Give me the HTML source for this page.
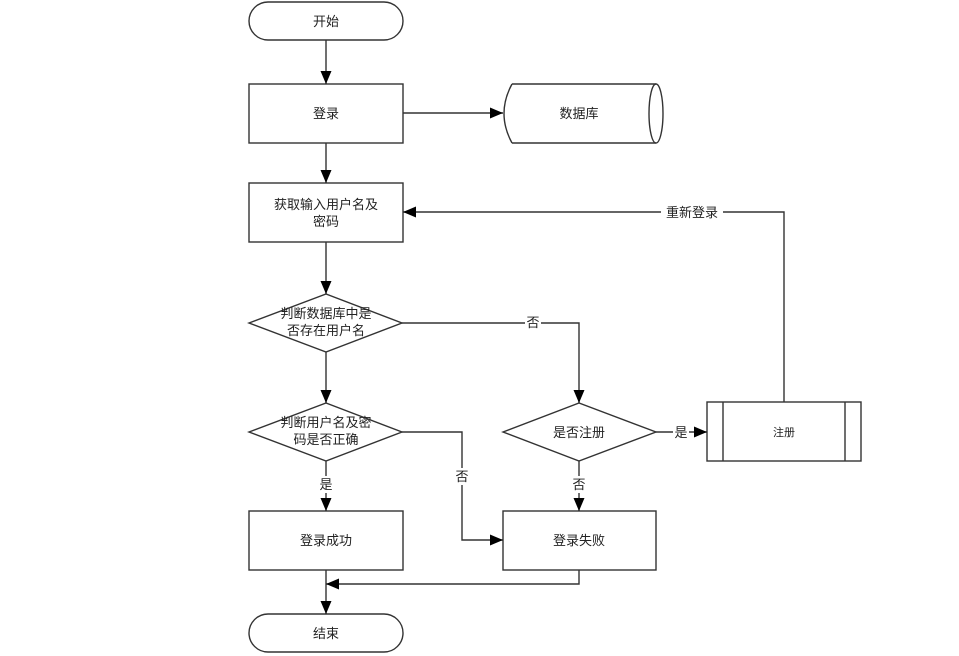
<!DOCTYPE html>
<html><head><meta charset="utf-8"><style>
html,body{margin:0;padding:0;background:#fff;}
svg{display:block;}
text{font-family:"Liberation Sans","Noto Sans CJK SC",sans-serif;font-size:13px;fill:#222;text-anchor:middle;}
</style></head><body>
<svg width="959" height="656" viewBox="0 0 959 656" xmlns="http://www.w3.org/2000/svg">
<defs><marker id="a" markerWidth="13" markerHeight="11" refX="13" refY="5.5" orient="auto" markerUnits="userSpaceOnUse"><path d="M0,0 L13,5.5 L0,11 z" fill="#000"/></marker></defs>
<g fill="none" stroke="#333" stroke-width="1.4">
<rect x="249" y="2" width="154" height="38" rx="19"/>
<rect x="249" y="84" width="154" height="59"/>
<path d="M512,84 H656 M512,143 H656 M512,84 Q496,113.5 512,143"/>
<ellipse cx="656" cy="113.5" rx="7" ry="29.5"/>
<rect x="249" y="183" width="154" height="59"/>
<path d="M249,323 L326,294 L402,323 L326,352 z"/>
<path d="M249,432 L326,403 L402,432 L326,461 z"/>
<path d="M503,432 L579,403 L656,432 L579,461 z"/>
<rect x="707" y="402" width="154" height="59"/>
<path d="M723,402 V461 M845,402 V461"/>
<rect x="249" y="511" width="154" height="59"/>
<rect x="503" y="511" width="153" height="59"/>
<rect x="249" y="614" width="154" height="38" rx="19"/>
</g>
<g fill="none" stroke="#333" stroke-width="1.4">
<path d="M326,40 V84" marker-end="url(#a)"/>
<path d="M403,113 H503" marker-end="url(#a)"/>
<path d="M326,143 V183" marker-end="url(#a)"/>
<path d="M326,242 V294" marker-end="url(#a)"/>
<path d="M326,352 V403" marker-end="url(#a)"/>
<path d="M402,323 H579 V403" marker-end="url(#a)"/>
<path d="M656,432 H707" marker-end="url(#a)"/>
<path d="M784,402 V212 H403" marker-end="url(#a)"/>
<path d="M326,461 V511" marker-end="url(#a)"/>
<path d="M579,461 V511" marker-end="url(#a)"/>
<path d="M402,432 H462 V540 H503" marker-end="url(#a)"/>
<path d="M326,570 V614" marker-end="url(#a)"/>
<path d="M579,570 V584 H326" marker-end="url(#a)"/>
</g>
<g fill="#fff">
<rect x="525" y="314" width="16" height="17"/>
<rect x="673" y="424" width="16" height="17"/>
<rect x="661" y="203" width="62" height="18"/>
<rect x="454" y="468" width="16" height="17"/>
<rect x="318" y="476" width="16" height="17"/>
<rect x="571" y="476" width="16" height="17"/>
</g>
<text x="326" y="26">开始</text>
<text x="326" y="118">登录</text>
<text x="579" y="118">数据库</text>
<text x="326" y="209">获取输入用户名及</text>
<text x="326" y="226">密码</text>
<text x="326" y="318">判断数据库中是</text>
<text x="326" y="335">否存在用户名</text>
<text x="326" y="427">判断用户名及密</text>
<text x="326" y="444">码是否正确</text>
<text x="579" y="437">是否注册</text>
<text x="784" y="436" style="font-size:11px">注册</text>
<text x="326" y="545">登录成功</text>
<text x="579" y="545">登录失败</text>
<text x="326" y="638">结束</text>
<text x="533" y="327">否</text>
<text x="681" y="437">是</text>
<text x="692" y="217">重新登录</text>
<text x="462" y="481">否</text>
<text x="326" y="489">是</text>
<text x="579" y="489">否</text>
</svg>
</body></html>
